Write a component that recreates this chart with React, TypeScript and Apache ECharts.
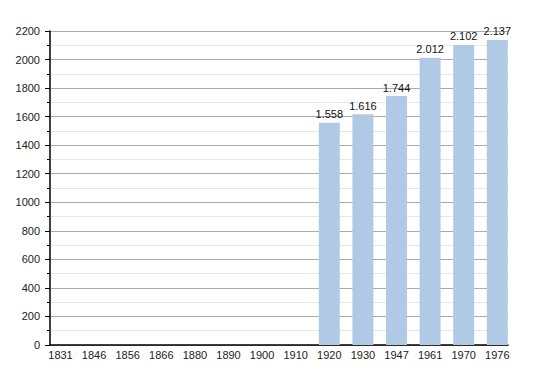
import React, { useEffect, useRef } from "react";
import * as echarts from "echarts";

const categories = ["1831", "1846", "1856", "1866", "1880", "1890", "1900", "1910", "1920", "1930", "1947", "1961", "1970", "1976"];
const population: (number | null)[] = [null, null, null, null, null, null, null, null, 1558, 1616, 1744, 2012, 2102, 2137];
const yTicks = { min: 0, max: 2200, interval: 200 };

const fmt = (v: number) => {
  const s = String(v);
  return s.length > 3 ? s.slice(0, s.length - 3) + "." + s.slice(-3) : s;
};

export default function App() {
  const ref = useRef<HTMLDivElement>(null);
  useEffect(() => {
    const chart = echarts.init(ref.current!, null, { renderer: "svg" });
    const idx = categories.map((_, i) => i);
    chart.setOption({
      animation: false,
      textStyle: { fontFamily: "Liberation Sans" },
      grid: { left: 50, right: 30, top: 31, bottom: 30, containLabel: false },
      xAxis: {
        type: "value",
        min: -0.3125,
        max: 13.318,
        splitLine: { show: false },
        axisLine: { show: true, onZero: false, lineStyle: { color: "#000", width: 1.5 } },
        axisTick: { show: false },
        axisLabel: {
          color: "#222",
          fontSize: 11,
          margin: 4,
          customValues: idx,
          formatter: (v: number) => categories[Math.round(v)] ?? "",
        },
      },
      yAxis: {
        type: "value",
        min: yTicks.min,
        max: yTicks.max,
        interval: yTicks.interval,
        axisLine: { show: true, onZero: false, lineStyle: { color: "#000", width: 1.5 } },
        axisTick: { show: true, length: 5, lineStyle: { color: "#000" } },
        minorTick: { show: true, splitNumber: 2, length: 3, lineStyle: { color: "#000" } },
        axisLabel: { color: "#222", fontSize: 11, margin: 10, formatter: (v: number) => String(v) },
        splitLine: { show: true, lineStyle: { color: "#aaa", width: 1 } },
        minorSplitLine: { show: true, lineStyle: { color: "#e6e6e6", width: 1 } },
      },
      series: [
        {
          type: "bar",
          data: population.map((v, i) => [i, v]),
          barWidth: 21,
          itemStyle: { color: "#b0cae6" },
          label: {
            show: true,
            position: "top",
            distance: 3,
            color: "#111",
            fontSize: 11,
            formatter: (p: any) => (p.value[1] == null ? "" : fmt(p.value[1])),
          },
        },
      ],
    });
    return () => chart.dispose();
  }, []);
  return <div ref={ref} style={{ width: 538, height: 375, position: "absolute", left: 0, top: 0, background: "#fff" }} />;
}
